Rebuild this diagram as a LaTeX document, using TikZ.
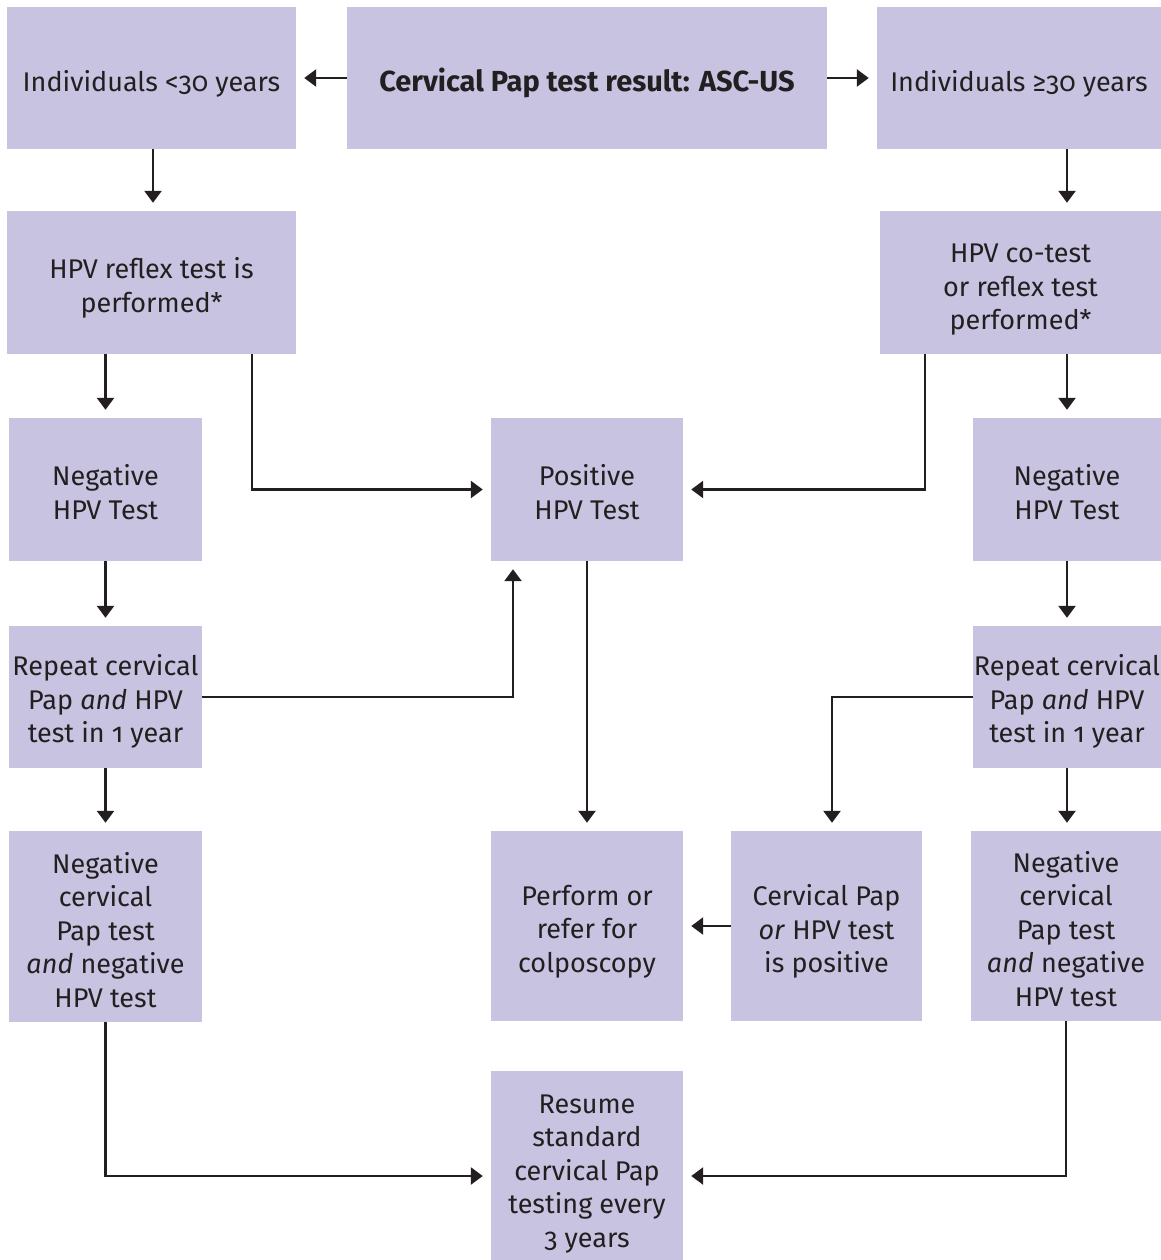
\documentclass[tikz,border=0pt]{standalone}
\usepackage{fontspec}
\setmainfont{Fira Sans}[Numbers=OldStyle]
\usetikzlibrary{arrows.meta}
\definecolor{boxfill}{HTML}{C8C3E0}
\definecolor{ink}{HTML}{231F20}
\tikzset{
  box/.style={fill=boxfill, draw=none, inner sep=0pt},
  txt/.style={inner sep=0pt, align=center, text=ink, font=\fontsize{27}{33.5}\selectfont},
  arr/.style={draw=ink, line width=2.5pt, -{Triangle[length=12pt,width=17pt]}, shorten >=8pt},
}
% name, width, height, centre, text drop, text
\newcommand\flowbox[6]{%
  \node[box, minimum width=#2pt, minimum height=#3pt] (#1) at (#4) {};
  \node[txt, yshift=-#5pt] (#1-t) at (#1.center) {#6};}
\begin{document}
\begin{tikzpicture}[x=1pt,y=-1pt]
\useasboundingbox (0,0) rectangle (1161,1260);
\flowbox{tl}{289}{142}{151.5,78}{5.5}{Individuals <30 years}
\flowbox{tc}{480}{142}{587,78}{5}{\fontsize{29}{33.5}\selectfont\bfseries Cervical Pap test result: ASC-US}
\flowbox{tr}{284}{142}{1019,78}{5.5}{Individuals ≥30 years}
\flowbox{l2}{289}{143}{151.5,282.5}{5.5}{HPV reflex test is\\performed*}
\flowbox{r2}{281}{143}{1020.5,282.5}{7.5}{HPV co-test\\or reflex test\\performed*}
\flowbox{l3}{193}{143}{105.5,489.5}{2.5}{Negative\\HPV Test}
\flowbox{c3}{192}{143}{587,489.5}{2.5}{Positive\\HPV Test}
\flowbox{r3}{188}{143}{1067,489.5}{2.5}{Negative\\HPV Test}
\flowbox{l4}{193}{142}{105.5,697}{4.5}{Repeat cervical\\Pap \emph{and} HPV\\test in 1 year}
\flowbox{r4}{188}{142}{1067,697}{4.5}{Repeat cervical\\Pap \emph{and} HPV\\test in 1 year}
\flowbox{l5}{193}{191}{105.5,926.5}{3.5}{Negative\\cervical\\Pap test\\\emph{and} negative\\HPV test}
\flowbox{c5}{192}{190}{587,926}{5.5}{Perform or\\refer for\\colposcopy}
\flowbox{m5}{191}{190}{826.5,926}{5.5}{Cervical Pap\\\emph{or} HPV test\\is positive}
\flowbox{r5}{190}{190}{1066,926}{3}{Negative\\cervical\\Pap test\\\emph{and} negative\\HPV test}
\flowbox{b}{192}{189}{587,1165.5}{8.5}{Resume\\standard\\cervical Pap\\testing every\\3 years}

\draw[arr] (tc.west) -- (tl.east);
\draw[arr] (tc.east) -- (tr.west);
\draw[arr] ([xshift=1.5pt]tl.south) -- ([xshift=1.5pt]l2.north);
\draw[arr] (r3.north |- tr.south) -- (r3.north |- r2.north);
\draw[arr] (l3.north |- l2.south) -- (l3.north);
\draw[arr] (r3.north |- r2.south) -- (r3.north);
\draw[arr] ([xshift=100.5pt]l2.south) |- (c3.west);
\draw[arr] ([xshift=-95.5pt]r2.south) |- (c3.east);
\draw[arr] (l3.south) -- (l4.north);
\draw[arr] (r3.south) -- (r4.north);
\draw[arr] (l4.east) -| ([xshift=-74pt]c3.south);
\draw[arr] (r4.west) -| ([xshift=5.5pt]m5.north);
\draw[arr] (l4.south) -- (l5.north);
\draw[arr] (r4.south) -- (r4.south |- r5.north);
\draw[arr] (c3.south) -- (c5.north);
\draw[arr] (m5.west) -- (c5.east);
\draw[arr] (l5.south) |- ([yshift=-10.5pt]b.west);
\draw[arr] (r5.south) |- ([yshift=-10.5pt]b.east);
\end{tikzpicture}
\end{document}
